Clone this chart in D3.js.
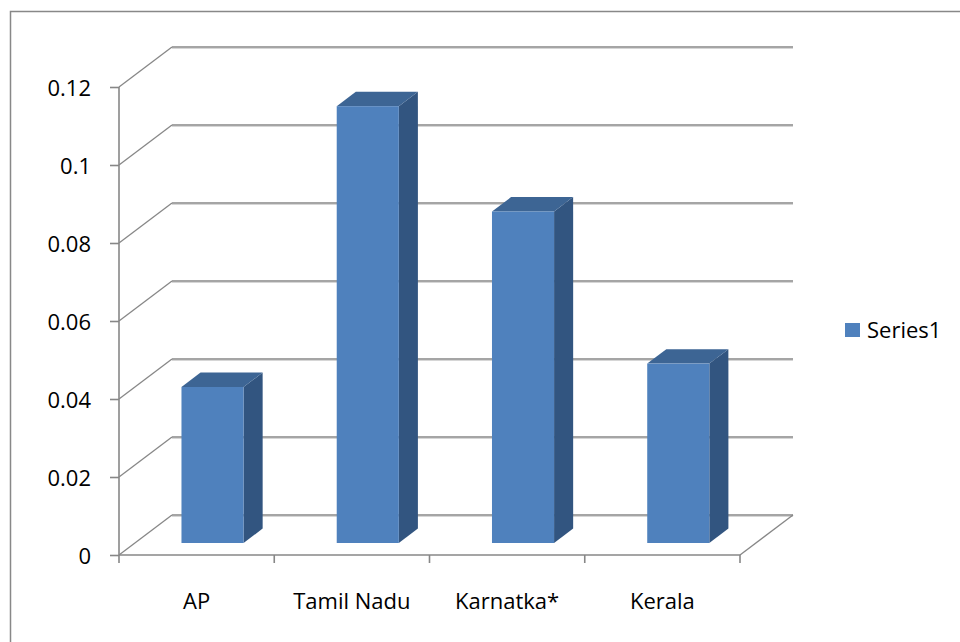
<!DOCTYPE html>
<html>
<head>
<meta charset="utf-8">
<script src="https://cdn.jsdelivr.net/npm/d3@7/dist/d3.min.js"></script>
<style>
  html, body { margin: 0; padding: 0; background: #fff; }
  svg { display: block; }
  text { font-family: "Open Sans", "Liberation Sans", sans-serif; fill: #000; }
</style>
</head>
<body>
<svg id="chart" width="960" height="642"></svg>
<script>
const categories = ["AP", "Tamil Nadu", "Karnatka*", "Kerala"];
const seriesName = "Series1";
const values = [0.04, 0.112, 0.085, 0.046];
const yTicks = [0, 0.02, 0.04, 0.06, 0.08, 0.1, 0.12];
const yTickLabels = ["0", "0.02", "0.04", "0.06", "0.08", "0.1", "0.12"];

const svg = d3.select("#chart");
const W = 960, H = 642;

// depth projection (full depth offset of back wall)
const DX = 53, DY = -40;
const x = d3.scaleBand().domain(categories).range([119, 740]).paddingInner(0).paddingOuter(0);
const y = d3.scaleLinear().domain([0, 0.12]).range([555, 87]);
const step = x.step();
const gridColor = "#878787";
const FS = 22;

// chart border
svg.append("path")
  .attr("d", `M10.5,${H + 2} V11.5 H${W + 2}`)
  .attr("fill", "none").attr("stroke", "#888").attr("stroke-width", 1.5);

const g = svg.append("g");

// back wall gridlines
yTicks.forEach(v => {
  const yb = y(v) + DY;
  g.append("line").attr("x1", 119 + DX).attr("x2", 740 + DX)
    .attr("y1", yb + 1.5).attr("y2", yb + 1.5).attr("stroke", "#d6d6d6").attr("stroke-width", 1.2);
  g.append("line").attr("x1", 119 + DX).attr("x2", 740 + DX)
    .attr("y1", yb).attr("y2", yb).attr("stroke", gridColor).attr("stroke-width", 1.6);
  // left wall diagonals
  g.append("line").attr("x1", 119).attr("y1", y(v))
    .attr("x2", 119 + DX).attr("y2", yb).attr("stroke", gridColor).attr("stroke-width", 1.3);
});

// floor: front edge and right edge
g.append("line").attr("x1", 119).attr("x2", 740).attr("y1", y(0)).attr("y2", y(0))
  .attr("stroke", gridColor).attr("stroke-width", 1.6);
g.append("line").attr("x1", 740).attr("y1", y(0)).attr("x2", 740 + DX).attr("y2", y(0) + DY)
  .attr("stroke", gridColor).attr("stroke-width", 1.3);

// x ticks at category boundaries
const bounds = categories.map(c => x(c)).concat([x(categories[categories.length - 1]) + step]);
bounds.forEach(b => {
  g.append("line").attr("x1", b).attr("x2", b).attr("y1", y(0)).attr("y2", y(0) + 8)
    .attr("stroke", gridColor).attr("stroke-width", 1.6);
});

// y axis via d3
const yAxis = d3.axisLeft(y).tickValues(yTicks)
  .tickFormat((d, i) => yTickLabels[i]).tickSize(9).tickPadding(19);
const ya = svg.append("g").attr("transform", "translate(119,0)").call(yAxis);
ya.selectAll(".tick line").attr("stroke", gridColor).attr("stroke-width", 1.6);
ya.selectAll(".tick text").attr("font-size", FS).attr("dy", "0.38em")
  .style("font-family", '"Open Sans", sans-serif').attr("fill", "#000");
ya.select(".domain").remove();
ya.append("line").attr("x1", 0).attr("x2", 0).attr("y1", y(0.12)).attr("y2", y(0))
  .attr("stroke", gridColor).attr("stroke-width", 1.6);

// x axis labels via d3
const xAxis = d3.axisBottom(x).tickSize(0).tickPadding(38);
const xa = svg.append("g").attr("transform", `translate(0,${y(0)})`).call(xAxis);
xa.select(".domain").remove();
xa.selectAll(".tick text").attr("font-size", FS)
  .style("font-family", '"Open Sans", sans-serif').attr("fill", "#000");

// bars
const d1 = 0.3, d2 = 0.66;
const bw = step * 0.4;
const bdx = DX * (d2 - d1), bdy = DY * (d2 - d1);
const bars = svg.append("g");
categories.forEach((c, i) => {
  const xl = x(c) + DX * d1 + step * 0.3;
  const xr = xl + bw;
  const yb = y(0) + DY * d1;
  const yt = y(values[i]) + DY * d1;
  // side
  bars.append("path")
    .attr("d", `M${xr},${yt} L${xr + bdx},${yt + bdy} L${xr + bdx},${yb + bdy} L${xr},${yb} Z`)
    .attr("fill", "#325580");
  // top
  bars.append("path")
    .attr("d", `M${xl},${yt} L${xl + bdx},${yt + bdy} L${xr + bdx},${yt + bdy} L${xr},${yt} Z`)
    .attr("fill", "#3D6594");
  // front
  bars.append("rect").attr("x", xl).attr("y", yt).attr("width", bw).attr("height", yb - yt)
    .attr("fill", "#4F81BD");
});

// legend
const lg = svg.append("g").attr("transform", "translate(845,323)");
lg.append("rect").attr("width", 15).attr("height", 14).attr("fill", "#4F81BD");
lg.append("text").attr("x", 22).attr("y", 15).attr("font-size", FS).text(seriesName);
</script>
</body>
</html>
